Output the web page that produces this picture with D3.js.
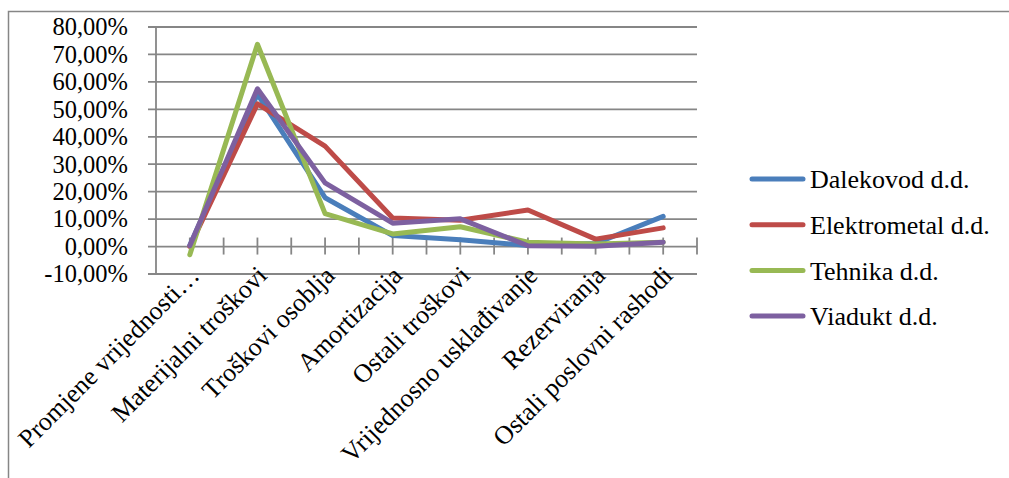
<!DOCTYPE html>
<html>
<head>
<meta charset="utf-8">
<script src="https://cdn.jsdelivr.net/npm/d3@7"></script>
<style>
  html, body { margin: 0; padding: 0; background: #fff; }
  svg { display: block; }
</style>
</head>
<body>
<svg id="chart" width="1009" height="478"></svg>
<script>
const categories = [
  "Promjene vrijednosti…",
  "Materijalni troškovi",
  "Troškovi osoblja",
  "Amortizacija",
  "Ostali troškovi",
  "Vrijednosno usklađivanje",
  "Rezerviranja",
  "Ostali poslovni rashodi"
];
const seriesNames = ["Dalekovod d.d.", "Elektrometal d.d.", "Tehnika d.d.", "Viadukt d.d."];
const seriesColors = ["#4a7ebb", "#be4b48", "#98b954", "#7d60a0"];
const dalekovod   = [0.005, 0.555, 0.178, 0.040, 0.025, 0.004, 0.011, 0.110];
const elektrometal = [0.000, 0.520, 0.366, 0.104, 0.096, 0.133, 0.027, 0.068];
const tehnika     = [-0.030, 0.737, 0.120, 0.046, 0.072, 0.016, 0.009, 0.016];
const viadukt     = [0.003, 0.575, 0.232, 0.085, 0.101, 0.003, 0.001, 0.016];
const seriesValues = [dalekovod, elektrometal, tehnika, viadukt];
const yTicks = [-0.1, 0, 0.1, 0.2, 0.3, 0.4, 0.5, 0.6, 0.7, 0.8];

(function () {
const FONT = "'Liberation Serif', 'Times New Roman', Times, 'DejaVu Serif', serif";
const svg = d3.select("#chart").attr("font-family", FONT);
const grid = "#868686";

// outer chart border (cropped at right/bottom)
svg.append("path")
  .attr("d", "M8.5,478 L8.5,11.5 L1009,11.5")
  .attr("fill", "none").attr("stroke", grid).attr("stroke-width", 1.5);

const pL = 156, pR = 697, pT = 27, pB = 274;
const x = d3.scaleBand().domain(categories).range([pL, pR]).paddingInner(0).paddingOuter(0);
const y = d3.scaleLinear().domain([-0.1, 0.8]).range([pB, pT]);
const bw = x.bandwidth();
const fmt = v => (v * 100).toFixed(2).replace(".", ",") + "%";

// gridlines
svg.append("g").selectAll("line").data(yTicks).join("line")
  .attr("x1", pL - 8).attr("x2", pR)
  .attr("y1", d => y(d)).attr("y2", d => y(d))
  .attr("stroke", grid).attr("stroke-width", 1.8);

// y axis line
svg.append("line").attr("x1", pL).attr("x2", pL).attr("y1", pT).attr("y2", pB)
  .attr("stroke", grid).attr("stroke-width", 1.8);

// y labels
svg.append("g").selectAll("text").data(yTicks).join("text")
  .attr("x", 128).attr("y", d => y(d))
  .attr("dy", "0.34em")
  .attr("text-anchor", "end")
  .attr("font-family", FONT)
  .attr("font-size", 24.5)
  .attr("fill", "#000")
  .text(fmt);

// x axis ticks at zero line
const y0 = y(0);
const tickPos = d3.range(1, categories.length * 2 + 1).map(k => pL + k * bw / 2);
svg.append("g").selectAll("line").data(tickPos).join("line")
  .attr("x1", d => d).attr("x2", d => d)
  .attr("y1", y0 - 9).attr("y2", y0 + 8)
  .attr("stroke", grid).attr("stroke-width", 1.8);

// x labels
svg.append("g").selectAll("text").data(categories).join("text")
  .attr("text-anchor", "end")
  .attr("font-family", FONT)
  .attr("font-size", 26)
  .attr("fill", "#000")
  .attr("transform", d => `translate(${x(d) + bw / 2 + 11},${pB + 3}) rotate(-45)`)
  .text(d => d);

// lines
const line = d3.line()
  .x((d, i) => x(categories[i]) + bw / 2)
  .y(d => y(d));
svg.append("g").selectAll("path").data(seriesValues).join("path")
  .attr("d", d => line(d))
  .attr("fill", "none")
  .attr("stroke", (d, i) => seriesColors[i])
  .attr("stroke-width", 5)
  .attr("stroke-linejoin", "round")
  .attr("stroke-linecap", "round");

// legend
const leg = svg.append("g").selectAll("g").data(seriesNames).join("g")
  .attr("transform", (d, i) => `translate(752,${179 + i * 45.7})`);
leg.append("line").attr("x1", 0).attr("x2", 51).attr("y1", 0).attr("y2", 0)
  .attr("stroke", (d, i) => seriesColors[i]).attr("stroke-width", 5).attr("stroke-linecap", "round");
leg.append("text").attr("x", 58).attr("y", 0).attr("dy", "0.35em")
  .attr("font-family", FONT)
  .attr("font-size", 26).attr("fill", "#000").text(d => d);
})();
</script>
</body>
</html>
